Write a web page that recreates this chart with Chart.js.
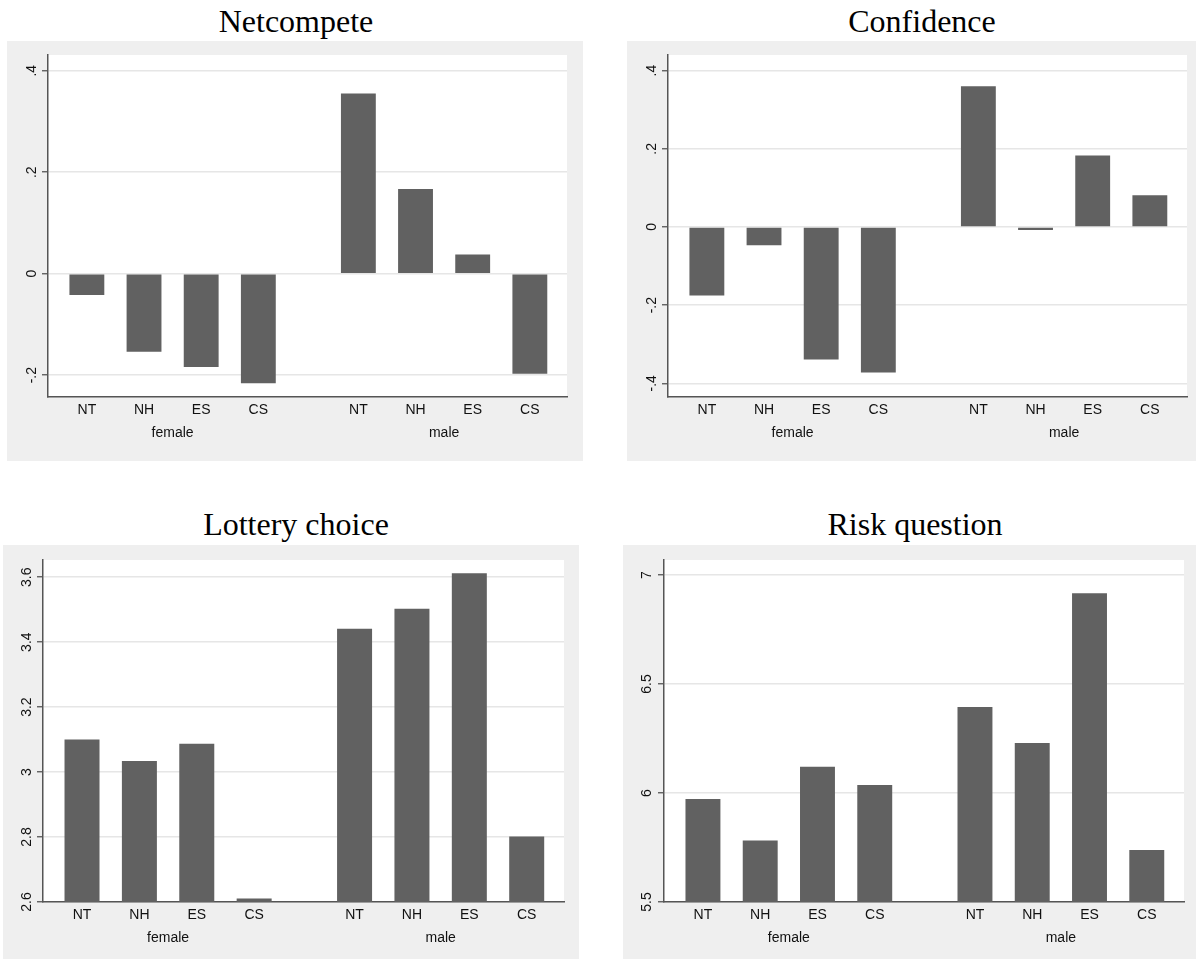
<!DOCTYPE html>
<html>
<head>
<meta charset="utf-8">
<script src="https://cdn.jsdelivr.net/npm/chart.js@4/dist/chart.umd.min.js"></script>
<style>
  body { margin: 0; background: #fff; width: 1196px; height: 959px; position: relative; overflow: hidden; }
  .title { position: absolute; width: 400px; text-align: center; font-family: 'Liberation Serif', 'Times New Roman', serif; font-size: 32px; line-height: 32px; color: #000; }
  .box { position: absolute; background: #efefef; }
</style>
</head>
<body>
<div class="title" style="left:96px; top:5px">Netcompete</div>
<div class="title" style="left:722px; top:5px">Confidence</div>
<div class="title" style="left:96px; top:508px">Lottery choice</div>
<div class="title" style="left:715px; top:508px">Risk question</div>

<div class="box" style="left:7px; top:41px; width:576px; height:420px"><canvas id="c1"></canvas></div>
<div class="box" style="left:627px; top:41px; width:569px; height:420px"><canvas id="c2"></canvas></div>
<div class="box" style="left:3px; top:545px; width:576px; height:414px"><canvas id="c3"></canvas></div>
<div class="box" style="left:623px; top:545px; width:573px; height:414px"><canvas id="c4"></canvas></div>

<script>
// categories
const treatments = ['NT', 'NH', 'ES', 'CS'];
const groups = ['female', 'male'];

// values
const netcompeteFemale = [-0.042, -0.154, -0.184, -0.216];
const netcompeteMale = [0.355, 0.167, 0.038, -0.197];
const confidenceFemale = [-0.175, -0.047, -0.339, -0.372];
const confidenceMale = [0.360, -0.008, 0.183, 0.081];
const lotteryFemale = [3.100, 3.034, 3.087, 2.611];
const lotteryMale = [3.441, 3.503, 3.612, 2.802];
const riskFemale = [5.973, 5.782, 6.121, 6.037];
const riskMale = [6.395, 6.229, 6.917, 5.739];

// y ticks
const netcompeteTicks = [-0.2, 0, 0.2, 0.4];
const netcompeteTickLabels = ['-.2', '0', '.2', '.4'];
const confidenceTicks = [-0.4, -0.2, 0, 0.2, 0.4];
const confidenceTickLabels = ['-.4', '-.2', '0', '.2', '.4'];
const lotteryTicks = [2.6, 2.8, 3, 3.2, 3.4, 3.6];
const lotteryTickLabels = ['2.6', '2.8', '3', '3.2', '3.4', '3.6'];
const riskTicks = [5.5, 6, 6.5, 7];
const riskTickLabels = ['5.5', '6', '6.5', '7'];

Chart.defaults.font.family = "'Liberation Sans', Arial, sans-serif";
Chart.defaults.font.size = 14;
Chart.defaults.color = '#111';

// bar slots: female 0..3, male after a wider gap
const groupGap = 1.75;
const maleStart = treatments.length - 1 + groupGap;
const xMin = -0.68, xMax = maleStart + treatments.length - 1 + 0.65;
const slotPos = treatments.map((t, i) => i).concat(treatments.map((t, i) => maleStart + i));
const groupPos = [(treatments.length - 1) / 2, maleStart + (treatments.length - 1) / 2];

const plotBg = {
    id: 'plotBg',
    beforeDraw(chart) {
        const { ctx, chartArea: a } = chart;
        ctx.save();
        ctx.fillStyle = '#ffffff';
        ctx.fillRect(a.left, a.top, a.right - a.left, a.bottom - a.top);
        ctx.restore();
    }
};

function makePanel(id, female, male, yMin, yMax, ticks, tickLabels, pad) {
    const points = female.map((v, i) => ({ x: slotPos[i], y: v }))
        .concat(male.map((v, i) => ({ x: slotPos[i + female.length], y: v })));
    const xLabels = treatments.concat(treatments);
    new Chart(document.getElementById(id), {
        type: 'bar',
        data: {
            datasets: [{
                data: points,
                backgroundColor: '#616161',
                borderWidth: 0,
                categoryPercentage: 1,
                barPercentage: 0.61
            }]
        },
        options: {
            responsive: true,
            maintainAspectRatio: false,
            animation: false,
            layout: { padding: { left: 0, right: pad.right, top: pad.top, bottom: pad.bottom } },
            plugins: { legend: { display: false }, tooltip: { enabled: false } },
            scales: {
                x: {
                    type: 'linear', min: xMin, max: xMax, offset: false, weight: 0,
                    afterBuildTicks: s => { s.ticks = slotPos.map(v => ({ value: v })); },
                    afterFit: s => { s.height = 22; },
                    ticks: { autoSkip: false, maxRotation: 0, minRotation: 0, padding: 5,
                             callback: (v, i) => xLabels[i] },
                    grid: { display: false, drawTicks: false, offset: false },
                    border: { display: true, color: '#555', width: 1.5 }
                },
                x2: {
                    type: 'linear', axis: 'x', position: 'bottom', min: xMin, max: xMax, offset: false, weight: 1,
                    afterBuildTicks: s => { s.ticks = groupPos.map(v => ({ value: v })); },
                    afterFit: s => { s.height = 24; },
                    ticks: { autoSkip: false, maxRotation: 0, minRotation: 0, padding: 6,
                             callback: (v, i) => groups[i] },
                    grid: { display: false, drawTicks: false },
                    border: { display: false }
                },
                y: {
                    min: yMin, max: yMax, beginAtZero: false,
                    afterBuildTicks: s => { s.ticks = ticks.map(v => ({ value: v })); },
                    afterFit: s => { s.width = pad.left; },
                    ticks: { minRotation: 90, maxRotation: 90, crossAlign: 'center', padding: pad.tick,
                             callback: (v, i) => tickLabels[i] },
                    grid: { color: '#e6e6e6', lineWidth: 1.5, tickColor: '#555', tickLength: 6, tickWidth: 1.3 },
                    border: { color: '#555', width: 1.5 }
                }
            }
        },
        plugins: [plotBg]
    });
}

makePanel('c1', netcompeteFemale, netcompeteMale, -0.243, 0.431, netcompeteTicks, netcompeteTickLabels,
    { left: 41, right: 16, top: 14, bottom: 18, tick: 2 });
makePanel('c2', confidenceFemale, confidenceMale, -0.435, 0.440, confidenceTicks, confidenceTickLabels,
    { left: 41, right: 9, top: 14, bottom: 18, tick: 2 });
makePanel('c3', lotteryFemale, lotteryMale, 2.6, 3.653, lotteryTicks, lotteryTickLabels,
    { left: 40, right: 15, top: 15, bottom: 11, tick: 0 });
makePanel('c4', riskFemale, riskMale, 5.5, 7.069, riskTicks, riskTickLabels,
    { left: 41, right: 12, top: 15, bottom: 11, tick: 1 });
</script>
</body>
</html>
